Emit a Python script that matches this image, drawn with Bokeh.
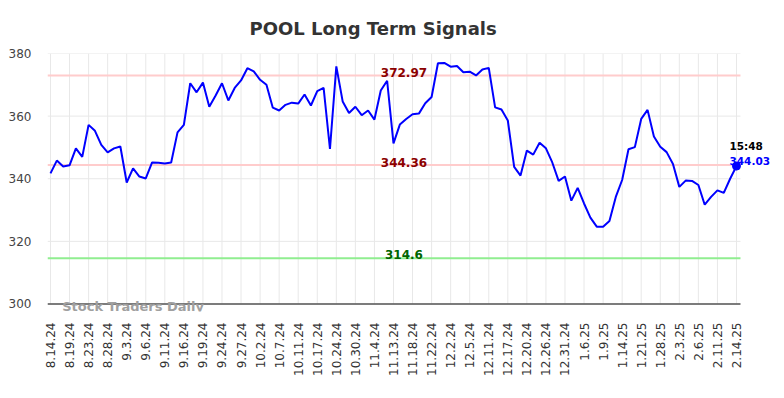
import math
from bokeh.plotting import figure
from bokeh.models import Range1d, FixedTicker, Label
from bokeh.embed import file_html
from bokeh.resources import INLINE

tick_labels = ["8.14.24", "8.19.24", "8.23.24", "8.28.24", "9.3.24", "9.6.24", "9.11.24",
               "9.16.24", "9.19.24", "9.24.24", "9.27.24", "10.2.24", "10.7.24", "10.11.24",
               "10.17.24", "10.24.24", "10.30.24", "11.4.24", "11.13.24", "11.18.24",
               "11.22.24", "12.2.24", "12.5.24", "12.11.24", "12.17.24", "12.20.24",
               "12.26.24", "12.31.24", "1.6.25", "1.9.25", "1.14.25", "1.21.25", "1.28.25",
               "2.3.25", "2.6.25", "2.11.25", "2.14.25"]

values = [341.7, 345.8, 343.9, 344.3, 349.7, 347.0, 357.2, 355.3, 350.8, 348.4,
          349.7, 350.3, 338.8, 343.3, 340.7, 340.1, 345.2, 345.1, 344.9, 345.2,
          354.8, 357.2, 370.5, 367.6, 370.7, 363.0, 366.6, 370.5,
          365.0, 369.0, 371.4, 375.3, 374.3, 371.6, 370.0, 362.7, 361.8, 363.6,
          364.3, 364.0, 366.9, 363.4, 368.0, 369.0, 349.5, 375.9, 364.7, 361.0,
          363.0, 360.3, 361.8, 358.9, 368.2, 371.3, 351.3,
          357.3, 359.1, 360.6, 360.8, 364.1, 366.1, 376.9, 377.0, 375.8, 376.0,
          374.0, 374.2, 373.0, 374.9, 375.4, 362.8, 362.1, 358.6, 343.8, 341.0,
          349.0, 347.7, 351.5, 349.7, 345.2, 339.3, 340.7,
          333.0, 337.1, 332.1, 327.6, 324.7, 324.7, 326.5, 334.2, 339.6, 349.4,
          350.1, 359.1, 362.0, 353.5, 350.2, 348.5, 344.7, 337.4, 339.4, 339.3,
          338.0, 331.7, 334.2, 336.3, 335.5, 340.0, 344.03]

resistance_high = 372.97
resistance_low = 344.36
support = 314.6
last_time = "15:48"
y_ticks = [300, 320, 340, 360, 380]
y_min, y_max = 300, 380

n = len(values)
xs = list(range(n))
label_step = 3
x_ticks = list(range(0, n, label_step))

# data area extents, plus extra room so text annotations are not clipped
x_lo, x_hi = -0.47, n - 1 + 0.63
x_room = 5.67
y_room = 2.4

p = figure(frame_width=729, frame_height=258, output_backend="svg", toolbar_location=None,
           x_range=Range1d(x_lo, x_hi + x_room), y_range=Range1d(y_min - y_room, y_max),
           min_border_left=47, min_border_right=4, min_border_top=53,
           min_border_bottom=0)
p.title.text = "POOL Long Term Signals"
p.title.align = "left"
p.title.offset = 202
p.title.standoff = 30
p.title.text_font = "DejaVu Sans"
p.title.text_font_size = "18px"
p.title.text_font_style = "bold"
p.title.text_color = "#333333"
p.outline_line_color = None
p.background_fill_color = "white"
p.border_fill_color = "white"
p.xgrid.visible = False
p.ygrid.visible = False

# axes
xa = p.xaxis[0]
xa.ticker = FixedTicker(ticks=x_ticks)
xa.major_label_overrides = {t: lab for t, lab in zip(x_ticks, tick_labels)}
xa.major_label_orientation = math.pi / 2
xa.major_label_text_font = "DejaVu Sans"
xa.major_label_text_font_size = "12px"
xa.major_label_text_color = "#333333"
xa.major_tick_line_color = None
xa.minor_tick_line_color = None
xa.major_tick_out = 0
xa.minor_tick_out = 0
xa.major_tick_in = 0
xa.major_label_standoff = 11
xa.axis_line_color = None

ya = p.yaxis[0]
ya.ticker = FixedTicker(ticks=y_ticks)
ya.major_label_text_font = "DejaVu Sans"
ya.major_label_text_font_size = "12px"
ya.major_label_text_color = "#444444"
ya.major_tick_line_color = None
ya.minor_tick_line_color = None
ya.axis_line_color = None
ya.major_label_standoff = 10

# grid
grid_col = "#e8e8e8"
p.segment(x0=x_ticks, y0=[y_min] * len(x_ticks), x1=x_ticks, y1=[y_max] * len(x_ticks),
          line_color=grid_col, line_width=1)
p.segment(x0=[x_lo] * len(y_ticks), y0=y_ticks, x1=[x_hi] * len(y_ticks), y1=y_ticks,
          line_color=grid_col, line_width=1)

# level lines
levels = [resistance_high, resistance_low, support]
level_colors = ["#ffcccc", "#ffcccc", "#90ee90"]
p.segment(x0=[x_lo] * 3, y0=levels, x1=[x_hi] * 3, y1=levels,
          line_color=level_colors, line_width=2)

# price line
p.line(xs, values, line_color="blue", line_width=2)
p.scatter([xs[-1]], [values[-1]], size=8, color="blue")

# x axis baseline at the bottom of the value range
p.segment(x0=[x_lo], y0=[y_min], x1=[x_hi], y1=[y_min], line_color="#555555", line_width=1.5)

mid_x = 55.65
for lvl, txt, col, off in [(resistance_high, f"{resistance_high:.2f}", "#8b0000", 3),
                           (resistance_low, f"{resistance_low:.2f}", "#8b0000", 3),
                           (support, f"{support}", "#006400", 4)]:
    p.add_layout(Label(x=mid_x, y=lvl, text=txt, text_align="center",
                       text_baseline="alphabetic", y_offset=off,
                       text_font="DejaVu Sans", text_font_size="12px",
                       text_font_style="bold", text_color=col))

p.add_layout(Label(x=xs[-1], y=values[-1], text=last_time, text_align="left",
                   text_baseline="alphabetic", x_offset=-7, y_offset=20,
                   text_font="DejaVu Sans", text_font_size="10.5px",
                   text_font_style="bold", text_color="black"))
p.add_layout(Label(x=xs[-1], y=values[-1], text=f"{values[-1]:.2f}", text_align="left",
                   text_baseline="alphabetic", x_offset=-7, y_offset=5,
                   text_font="DejaVu Sans", text_font_size="10.5px",
                   text_font_style="bold", text_color="blue"))

p.add_layout(Label(x=1.85, y=y_min, text="Stock Traders Daily", text_align="left",
                   text_baseline="alphabetic", y_offset=-3,
                   text_font="DejaVu Sans", text_font_size="13px",
                   text_font_style="bold", text_color="#a0a0a0"))

open("out.html", "w").write(file_html(p, INLINE))
